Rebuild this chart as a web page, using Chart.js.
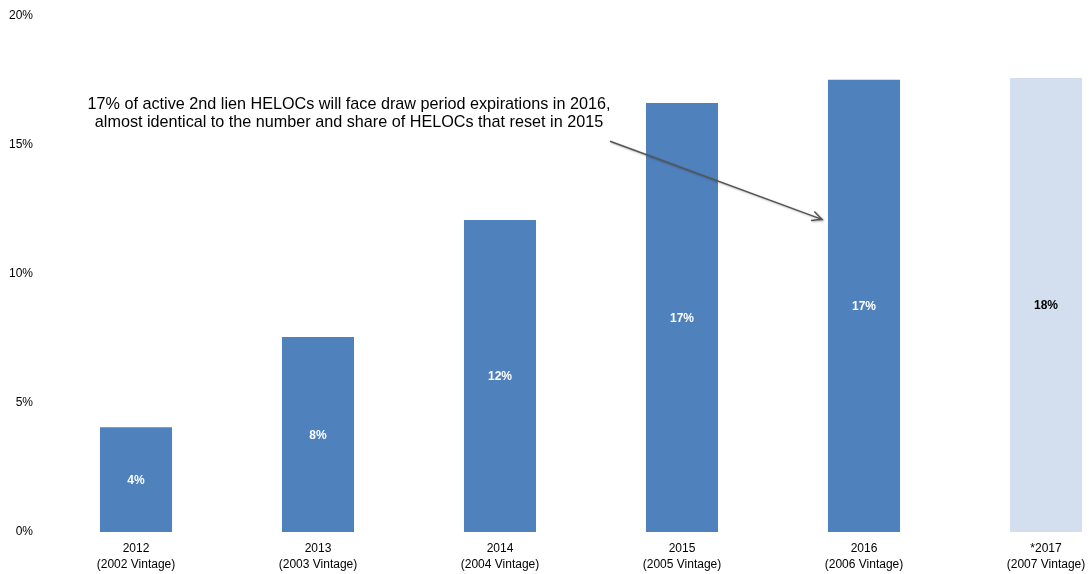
<!DOCTYPE html>
<html><head><meta charset="utf-8">
<script src="https://cdn.jsdelivr.net/npm/chart.js@4.4.0/dist/chart.umd.min.js"></script>
<style>
html,body{margin:0;padding:0;background:#fff;overflow:hidden;width:1089px;height:574px;}
#wrap{position:relative;width:1140px;height:578px;margin-top:-4px;}
</style></head>
<body><div id="wrap"><canvas id="c"></canvas></div>
<script>
const categories = [["2012","(2002 Vintage)"],["2013","(2003 Vintage)"],["2014","(2004 Vintage)"],["2015","(2005 Vintage)"],["2016","(2006 Vintage)"],["*2017","(2007 Vintage)"]];
const values = [4.05, 7.55, 12.07, 16.6, 17.5, 17.57];
const valueLabels = ["4%","8%","12%","17%","17%","18%"];
const barColors = ["#4F81BD","#4F81BD","#4F81BD","#4F81BD","#4F81BD","#D3DFEE"];
const labelColors = ["#fff","#fff","#fff","#fff","#fff","#000"];
const yTicks = [0,5,10,15,20];
const noteLines = ["17% of active 2nd lien HELOCs will face draw period expirations in 2016,","almost identical to the number and share of HELOCs that reset in 2015"];
const FONT = "'Liberation Sans', Arial, sans-serif";

const labelPlugin = {
  id:'labels',
  afterDatasetsDraw(chart){
    const ctx = chart.ctx;
    const meta = chart.getDatasetMeta(0);
    ctx.save();
    ctx.font = "bold 12px " + FONT;
    ctx.textAlign = 'center'; ctx.textBaseline = 'middle';
    meta.data.forEach((bar,i)=>{
      ctx.fillStyle = labelColors[i];
      ctx.fillText(valueLabels[i], bar.x, (bar.y + bar.base)/2 + 1);
    });
    // annotation
    const xs = chart.scales.x, ys = chart.scales.y;
    const tx = (xs.getPixelForValue(1) + xs.getPixelForValue(2))/2 - 60;
    ctx.font = "16.2px " + FONT;
    ctx.fillStyle = '#000';
    ctx.fillText(noteLines[0], tx, ys.getPixelForValue(16.56));
    ctx.fillText(noteLines[1], tx, ys.getPixelForValue(15.86));
    // arrow
    const b4 = meta.data[4];
    const x1 = xs.getPixelForValue(3) - 72, y1 = ys.getPixelForValue(15.12);
    const x2 = b4.x - b4.width/2 - 6, y2 = ys.getPixelForValue(12.1);
    ctx.strokeStyle = '#555'; ctx.lineWidth = 1.5;
    ctx.shadowColor = 'rgba(0,0,0,0.3)'; ctx.shadowBlur = 2; ctx.shadowOffsetX = 1; ctx.shadowOffsetY = 1;
    ctx.beginPath(); ctx.moveTo(x1,y1); ctx.lineTo(x2,y2); ctx.stroke();
    const ang = Math.atan2(y2-y1, x2-x1);
    const L = 11, a = 0.45;
    ctx.beginPath();
    ctx.moveTo(x2 - L*Math.cos(ang - a), y2 - L*Math.sin(ang - a));
    ctx.lineTo(x2, y2);
    ctx.lineTo(x2 - L*Math.cos(ang + a), y2 - L*Math.sin(ang + a));
    ctx.stroke();
    ctx.restore();
  }
};

new Chart(document.getElementById('c'), {
  type:'bar',
  data:{ labels: categories, datasets:[{ data: values, backgroundColor: barColors, borderWidth:0, categoryPercentage:1, barPercentage:0.396 }]},
  options:{
    responsive:true, maintainAspectRatio:false, animation:false,
    layout:{ padding:{ top:10, right:3, left:0, bottom:0 } },
    plugins:{ legend:{display:false}, tooltip:{enabled:false} },
    scales:{
      x:{
        grid:{ display:false, drawTicks:false },
        border:{ display:false },
        ticks:{ color:'#000', font:{ family:FONT, size:12, lineHeight:1.34 }, padding:9, maxRotation:0, autoSkip:false },
        afterFit(s){ s.height = 42; }
      },
      y:{
        min:0, max:20,
        afterBuildTicks(s){ s.ticks = yTicks.map(v=>({value:v})); },
        grid:{ display:false, drawTicks:false },
        border:{ display:false },
        ticks:{ color:'#000', font:{ family:FONT, size:12 }, padding:12, callback:v=>v+'%' },
        afterFit(s){ s.width = 45; }
      }
    }
  },
  plugins:[labelPlugin]
});
</script></body></html>
